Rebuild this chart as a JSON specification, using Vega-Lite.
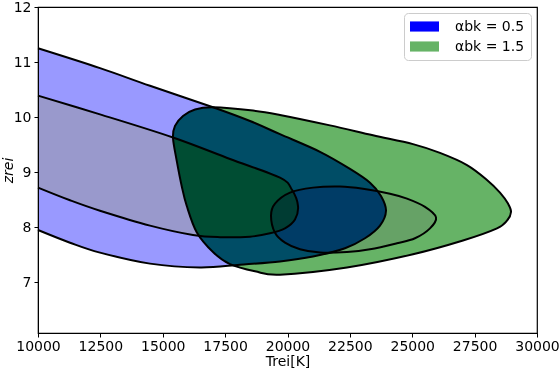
{
  "$schema": "https://vega.github.io/schema/vega-lite/v6.json",
  "width": 499,
  "height": 326,
  "autosize": {"type": "none"},
  "padding": {"left": 38, "top": 7, "right": 23, "bottom": 36},
  "background": "white",
  "config": {
    "font": "DejaVu Sans",
    "view": {"stroke": "black", "strokeWidth": 1.2}
  },
  "datasets": {
    "shapes": [
      {"s": "bo", "i": 1, "T": 10000, "z": 11.25},
      {"s": "bo", "i": 2, "T": 12485, "z": 10.89},
      {"s": "bo", "i": 3, "T": 14489, "z": 10.57},
      {"s": "bo", "i": 4, "T": 17014, "z": 10.18},
      {"s": "bo", "i": 5, "T": 18497, "z": 9.93},
      {"s": "bo", "i": 6, "T": 19699, "z": 9.69},
      {"s": "bo", "i": 7, "T": 21303, "z": 9.37},
      {"s": "bo", "i": 8, "T": 22505, "z": 9.06},
      {"s": "bo", "i": 9, "T": 23307, "z": 8.81},
      {"s": "bo", "i": 10, "T": 23747, "z": 8.57},
      {"s": "bo", "i": 11, "T": 23948, "z": 8.30},
      {"s": "bo", "i": 12, "T": 23707, "z": 8.03},
      {"s": "bo", "i": 13, "T": 23106, "z": 7.80},
      {"s": "bo", "i": 14, "T": 22305, "z": 7.62},
      {"s": "bo", "i": 15, "T": 21022, "z": 7.47},
      {"s": "bo", "i": 16, "T": 19699, "z": 7.38},
      {"s": "bo", "i": 17, "T": 18096, "z": 7.32},
      {"s": "bo", "i": 18, "T": 16493, "z": 7.27},
      {"s": "bo", "i": 19, "T": 14489, "z": 7.34},
      {"s": "bo", "i": 20, "T": 12485, "z": 7.54},
      {"s": "bo", "i": 21, "T": 11283, "z": 7.72},
      {"s": "bo", "i": 22, "T": 10000, "z": 7.95},

      {"s": "bi", "i": 1, "T": 10000, "z": 10.39},
      {"s": "bi", "i": 2, "T": 12485, "z": 10.05},
      {"s": "bi", "i": 3, "T": 15411, "z": 9.63},
      {"s": "bi", "i": 4, "T": 17695, "z": 9.24},
      {"s": "bi", "i": 5, "T": 19699, "z": 8.90},
      {"s": "bi", "i": 6, "T": 20180, "z": 8.68},
      {"s": "bi", "i": 7, "T": 20420, "z": 8.39},
      {"s": "bi", "i": 8, "T": 20300, "z": 8.14},
      {"s": "bi", "i": 9, "T": 19899, "z": 7.98},
      {"s": "bi", "i": 10, "T": 19298, "z": 7.89},
      {"s": "bi", "i": 11, "T": 18497, "z": 7.83},
      {"s": "bi", "i": 12, "T": 17295, "z": 7.82},
      {"s": "bi", "i": 13, "T": 16212, "z": 7.86},
      {"s": "bi", "i": 14, "T": 14489, "z": 8.03},
      {"s": "bi", "i": 15, "T": 12485, "z": 8.30},
      {"s": "bi", "i": 16, "T": 11283, "z": 8.49},
      {"s": "bi", "i": 17, "T": 10000, "z": 8.72},

      {"s": "go", "i": 0, "T": 28958, "z": 8.28},
      {"s": "go", "i": 1, "T": 28838, "z": 8.43},
      {"s": "go", "i": 2, "T": 28517, "z": 8.63},
      {"s": "go", "i": 3, "T": 27996, "z": 8.86},
      {"s": "go", "i": 4, "T": 27194, "z": 9.13},
      {"s": "go", "i": 5, "T": 26112, "z": 9.35},
      {"s": "go", "i": 6, "T": 25030, "z": 9.51},
      {"s": "go", "i": 7, "T": 23427, "z": 9.67},
      {"s": "go", "i": 8, "T": 21703, "z": 9.85},
      {"s": "go", "i": 9, "T": 19699, "z": 10.04},
      {"s": "go", "i": 10, "T": 18617, "z": 10.12},
      {"s": "go", "i": 11, "T": 17014, "z": 10.18},
      {"s": "go", "i": 12, "T": 16293, "z": 10.14},
      {"s": "go", "i": 13, "T": 15812, "z": 10.02},
      {"s": "go", "i": 14, "T": 15491, "z": 9.84},
      {"s": "go", "i": 15, "T": 15411, "z": 9.62},
      {"s": "go", "i": 16, "T": 15559, "z": 9.21},
      {"s": "go", "i": 17, "T": 15759, "z": 8.75},
      {"s": "go", "i": 18, "T": 15960, "z": 8.39},
      {"s": "go", "i": 19, "T": 16361, "z": 7.91},
      {"s": "go", "i": 20, "T": 17014, "z": 7.55},
      {"s": "go", "i": 21, "T": 17695, "z": 7.33},
      {"s": "go", "i": 22, "T": 18697, "z": 7.20},
      {"s": "go", "i": 23, "T": 19699, "z": 7.14},
      {"s": "go", "i": 24, "T": 22385, "z": 7.27},
      {"s": "go", "i": 25, "T": 25030, "z": 7.51},
      {"s": "go", "i": 26, "T": 27034, "z": 7.76},
      {"s": "go", "i": 27, "T": 28397, "z": 7.98},
      {"s": "go", "i": 28, "T": 28797, "z": 8.12},

      {"s": "gi", "i": 0, "T": 19339, "z": 8.21},
      {"s": "gi", "i": 1, "T": 19499, "z": 8.43},
      {"s": "gi", "i": 2, "T": 20100, "z": 8.63},
      {"s": "gi", "i": 3, "T": 21022, "z": 8.72},
      {"s": "gi", "i": 4, "T": 22104, "z": 8.74},
      {"s": "gi", "i": 5, "T": 23026, "z": 8.70},
      {"s": "gi", "i": 6, "T": 24108, "z": 8.61},
      {"s": "gi", "i": 7, "T": 24790, "z": 8.52},
      {"s": "gi", "i": 8, "T": 25511, "z": 8.37},
      {"s": "gi", "i": 9, "T": 25952, "z": 8.18},
      {"s": "gi", "i": 10, "T": 25711, "z": 7.98},
      {"s": "gi", "i": 11, "T": 25110, "z": 7.80},
      {"s": "gi", "i": 12, "T": 24389, "z": 7.71},
      {"s": "gi", "i": 13, "T": 23307, "z": 7.60},
      {"s": "gi", "i": 14, "T": 22385, "z": 7.55},
      {"s": "gi", "i": 15, "T": 21303, "z": 7.54},
      {"s": "gi", "i": 16, "T": 20501, "z": 7.60},
      {"s": "gi", "i": 17, "T": 19900, "z": 7.72},
      {"s": "gi", "i": 18, "T": 19499, "z": 7.90}
    ]
  },
  "encoding": {
    "x": {
      "field": "T", "type": "quantitative",
      "scale": {"domain": [10000, 30000], "nice": false, "zero": false},
      "axis": {
        "title": "Trei[K]", "values": [10000, 12500, 15000, 17500, 20000, 22500, 25000, 27500, 30000],
        "format": "d", "grid": false, "labelFlush": false, "labelOverlap": false, "zindex": 1,
        "labelFontSize": 14, "titleFontSize": 14, "titleFontWeight": "normal",
        "labelColor": "black", "titleColor": "black", "tickColor": "black", "domainColor": "black",
        "tickSize": 4, "labelPadding": 2, "titlePadding": 1
      }
    },
    "y": {
      "field": "z", "type": "quantitative",
      "scale": {"domain": [6.08, 12], "nice": false, "zero": false},
      "axis": {
        "title": "zrei", "values": [7, 8, 9, 10, 11, 12], "grid": false, "zindex": 1,
        "labelFontSize": 14, "titleFontSize": 14, "titleFontWeight": "normal", "titleFontStyle": "italic",
        "labelColor": "black", "titleColor": "black", "tickColor": "black", "domainColor": "black",
        "tickSize": 4, "labelPadding": 3, "titlePadding": -2
      }
    }
  },
  "layer": [
    {
      "data": {"name": "shapes"},
      "transform": [{"filter": {"field": "s", "equal": "bo"}}],
      "mark": {"type": "line", "interpolate": "cardinal", "fill": "#666600", "strokeWidth": 0, "strokeOpacity": 0, "blend": "difference"},
      "encoding": {"order": {"field": "i", "type": "quantitative"}}
    },
    {
      "data": {"name": "shapes"},
      "transform": [{"filter": {"field": "s", "equal": "bi"}}],
      "mark": {"type": "line", "interpolate": "cardinal", "fill": "#000033", "strokeWidth": 0, "strokeOpacity": 0, "blend": "difference"},
      "encoding": {"order": {"field": "i", "type": "quantitative"}}
    },
    {
      "data": {"name": "shapes"},
      "transform": [{"filter": {"field": "s", "equal": "go"}}],
      "mark": {"type": "line", "interpolate": "cardinal-closed", "fill": "#994c99", "strokeWidth": 0, "strokeOpacity": 0, "blend": "difference"},
      "encoding": {"order": {"field": "i", "type": "quantitative"}}
    },
    {
      "data": {"name": "shapes"},
      "transform": [{"filter": {"field": "s", "equal": "gi"}}],
      "mark": {"type": "line", "interpolate": "cardinal-closed", "fill": "#001100", "strokeWidth": 0, "strokeOpacity": 0, "blend": "difference"},
      "encoding": {"order": {"field": "i", "type": "quantitative"}}
    },
    {
      "data": {"name": "shapes"},
      "transform": [{"filter": {"field": "s", "oneOf": ["bo", "bi"]}}],
      "mark": {"type": "line", "interpolate": "cardinal", "stroke": "black", "strokeWidth": 2},
      "encoding": {"order": {"field": "i", "type": "quantitative"}, "detail": {"field": "s", "type": "nominal"}}
    },
    {
      "data": {"name": "shapes"},
      "transform": [{"filter": {"field": "s", "oneOf": ["go", "gi"]}}],
      "mark": {"type": "line", "interpolate": "cardinal-closed", "stroke": "black", "strokeWidth": 2},
      "encoding": {"order": {"field": "i", "type": "quantitative"}, "detail": {"field": "s", "type": "nominal"}}
    },
    {
      "data": {"values": [{"lab": "αbk = 0.5"}, {"lab": "αbk = 1.5"}]},
      "mark": {"type": "point", "filled": true, "opacity": 0},
      "encoding": {
        "x": {"value": 0},
        "y": {"value": 0},
        "fill": {
          "field": "lab", "type": "nominal",
          "scale": {"domain": ["αbk = 0.5", "αbk = 1.5"], "range": ["#0000ff", "#66b366"]},
          "legend": {
            "title": null, "orient": "top-right", "offset": 6, "padding": 6,
            "strokeColor": "#cccccc", "fillColor": "white", "cornerRadius": 4,
            "symbolType": "M-2,-0.7H2V0.7H-2Z", "symbolSize": 210, "symbolOpacity": 1,
            "symbolStrokeWidth": 0, "symbolOffset": 7,
            "labelFontSize": 14, "labelColor": "black", "labelOffset": 23, "rowPadding": 5,
            "labelLimit": 200
          }
        }
      }
    }
  ]
}
